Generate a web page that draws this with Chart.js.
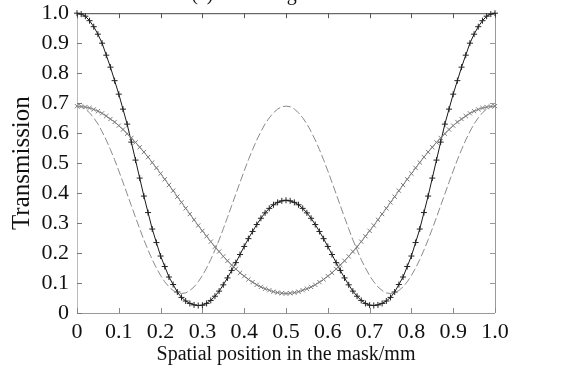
<!DOCTYPE html>
<html>
<head>
<meta charset="utf-8">
<script src="https://cdn.jsdelivr.net/npm/chart.js@4.4.1/dist/chart.umd.min.js"></script>
<style>
  html, body { margin: 0; padding: 0; background: #fff; }
  #wrap { width: 568px; height: 374px; position: relative; }
</style>
</head>
<body>
<div id="wrap"><canvas id="chart" width="568" height="374"></canvas></div>
<script>
// transmission, x = 0 .. 1.0 mm in 0.01 steps
const solidPlus = [
  1.000, 0.997, 0.990, 0.975, 0.955, 0.930, 0.900, 0.860, 0.820, 0.775,
  0.730, 0.680, 0.630, 0.570, 0.510, 0.450, 0.390, 0.335, 0.280, 0.235,
  0.190, 0.155, 0.120, 0.095, 0.070, 0.052, 0.040, 0.032, 0.027, 0.025,
  0.026, 0.032, 0.042, 0.056, 0.073, 0.094, 0.117, 0.142, 0.168, 0.195,
  0.222, 0.248, 0.272, 0.295, 0.316, 0.334, 0.349, 0.361, 0.369, 0.374,
  0.376,
  0.374, 0.369, 0.361, 0.349, 0.334, 0.316, 0.295, 0.272, 0.248, 0.222,
  0.195, 0.168, 0.142, 0.117, 0.094, 0.073, 0.056, 0.042, 0.032, 0.026,
  0.025, 0.027, 0.032, 0.040, 0.052, 0.070, 0.095, 0.120, 0.155, 0.190,
  0.235, 0.280, 0.335, 0.390, 0.450, 0.510, 0.570, 0.630, 0.680, 0.730,
  0.775, 0.820, 0.860, 0.900, 0.930, 0.955, 0.975, 0.990, 0.997, 1.000
];
const grayCross = [
  0.690, 0.689, 0.687, 0.684, 0.679, 0.673, 0.666, 0.657, 0.647, 0.637,
  0.625, 0.612, 0.598, 0.584, 0.569, 0.553, 0.537, 0.520, 0.502, 0.484,
  0.465, 0.446, 0.427, 0.408, 0.388, 0.369, 0.349, 0.330, 0.311, 0.292,
  0.274, 0.256, 0.238, 0.221, 0.205, 0.189, 0.174, 0.160, 0.147, 0.134,
  0.123, 0.112, 0.103, 0.094, 0.087, 0.081, 0.076, 0.071, 0.068, 0.066,
  0.065,
  0.066, 0.068, 0.071, 0.076, 0.081, 0.087, 0.094, 0.103, 0.112, 0.123,
  0.134, 0.147, 0.160, 0.174, 0.189, 0.205, 0.221, 0.238, 0.256, 0.274,
  0.292, 0.311, 0.330, 0.349, 0.369, 0.388, 0.408, 0.427, 0.446, 0.465,
  0.484, 0.502, 0.520, 0.537, 0.553, 0.569, 0.584, 0.598, 0.612, 0.625,
  0.637, 0.647, 0.657, 0.666, 0.673, 0.679, 0.684, 0.687, 0.689, 0.690
];
const dashed = [
  0.690, 0.688, 0.680, 0.668, 0.651, 0.631, 0.605, 0.577, 0.545, 0.511,
  0.474, 0.436, 0.397, 0.358, 0.319, 0.281, 0.244, 0.210, 0.178, 0.150,
  0.125, 0.104, 0.087, 0.075, 0.067, 0.065, 0.067, 0.075, 0.087, 0.104,
  0.125, 0.150, 0.178, 0.210, 0.244, 0.281, 0.319, 0.358, 0.397, 0.436,
  0.474, 0.511, 0.545, 0.577, 0.605, 0.631, 0.651, 0.668, 0.680, 0.688,
  0.690,
  0.688, 0.680, 0.668, 0.651, 0.631, 0.605, 0.577, 0.545, 0.511, 0.474,
  0.436, 0.397, 0.358, 0.319, 0.281, 0.244, 0.210, 0.178, 0.150, 0.125,
  0.104, 0.087, 0.075, 0.067, 0.065, 0.067, 0.075, 0.087, 0.104, 0.125,
  0.150, 0.178, 0.210, 0.244, 0.281, 0.319, 0.358, 0.397, 0.436, 0.474,
  0.511, 0.545, 0.577, 0.605, 0.631, 0.651, 0.668, 0.680, 0.688, 0.690
];
const xTicks = [0, 0.1, 0.2, 0.3, 0.4, 0.5, 0.6, 0.7, 0.8, 0.9, 1.0];
const yTicks = [0, 0.1, 0.2, 0.3, 0.4, 0.5, 0.6, 0.7, 0.8, 0.9, 1.0];

const positions = solidPlus.map((_, i) => i / 100);
const pts = arr => arr.map((v, i) => ({ x: positions[i], y: v }));
const fmt = v => (v === 0 ? '0' : v.toFixed(1));
const serif = '"Liberation Serif", "DejaVu Serif", serif';

// MATLAB-ish box: inward ticks on all four sides
const boxPlugin = {
    id: 'box',
    beforeDatasetsDraw(chart) {
        const { ctx, chartArea: a, scales: { x, y } } = chart;
        ctx.save();
        ctx.lineWidth = 1;
        const line = (x1, y1, x2, y2, c) => {
            ctx.strokeStyle = c;
            ctx.beginPath();
            ctx.moveTo(x1, y1);
            ctx.lineTo(x2, y2);
            ctx.stroke();
        };
        line(a.left, a.top + 0.5, a.right, a.top + 0.5, '#444');
        line(a.left + 0.5, a.top, a.left + 0.5, a.bottom, '#bbb');
        line(a.left, a.bottom + 0.5, a.right, a.bottom + 0.5, '#999');
        line(a.right + 0.5, a.top, a.right + 0.5, a.bottom, '#999');
        xTicks.forEach(t => {
            const px = Math.round(x.getPixelForValue(t)) + 0.5;
            line(px, a.bottom, px, a.bottom - 5, '#888');
            line(px, a.top, px, a.top + 5, '#555');
        });
        yTicks.forEach(t => {
            const py = Math.round(y.getPixelForValue(t)) + 0.5;
            line(a.left, py, a.left + 5, py, '#777');
            line(a.right, py, a.right - 5, py, '#999');
        });
        ctx.restore();
    },
    afterDraw(chart) {
        // clipped figure caption at the very top
        const { ctx } = chart;
        ctx.save();
        ctx.fillStyle = '#111';
        ctx.font = '20px ' + serif;
        ctx.textAlign = 'center';
        ctx.textBaseline = 'alphabetic';
        ctx.fillText('(a) The designed mask', 282, 0);
        ctx.restore();
    }
};

new Chart(document.getElementById('chart').getContext('2d'), {
    type: 'line',
    data: {
        datasets: [{
            data: pts(dashed),
            borderColor: '#8a8a8a',
            borderWidth: 1,
            borderDash: [8, 3],
            pointRadius: 0,
            tension: 0
        }, {
            data: pts(grayCross),
            borderColor: '#8a8a8a',
            borderWidth: 1,
            pointStyle: 'crossRot',
            pointRadius: 3,
            pointBorderColor: '#7a7a7a',
            pointBorderWidth: 1,
            tension: 0
        }, {
            data: pts(solidPlus),
            borderColor: '#1a1a1a',
            borderWidth: 1,
            pointStyle: 'cross',
            pointRadius: 3,
            pointBorderColor: '#222',
            pointBorderWidth: 1,
            tension: 0
        }]
    },
    options: {
        responsive: false,
        animation: false,
        clip: false,
        layout: { padding: { top: 12, right: 73, left: 0, bottom: 0 } },
        plugins: {
            legend: { display: false },
            tooltip: { enabled: false }
        },
        scales: {
            x: {
                type: 'linear',
                min: 0,
                max: 1,
                grid: { display: false },
                border: { display: false },
                afterBuildTicks: s => { s.ticks = xTicks.map(v => ({ value: v })); },
                afterFit: s => { s.height = 61; },
                ticks: {
                    color: '#111',
                    padding: -2,
                    maxRotation: 0,
                    font: { family: serif, size: 22 },
                    callback: v => fmt(v)
                },
                title: {
                    display: true,
                    text: 'Spatial position in the mask/mm',
                    color: '#111',
                    font: { family: serif, size: 20 },
                    padding: { top: 0, bottom: 7 }
                }
            },
            y: {
                min: 0,
                max: 1,
                grid: { display: false },
                border: { display: false },
                afterBuildTicks: s => { s.ticks = yTicks.map(v => ({ value: v })); },
                afterFit: s => { s.width = 77; },
                ticks: {
                    color: '#111',
                    padding: 0,
                    font: { family: serif, size: 22 },
                    callback: v => fmt(v)
                },
                title: {
                    display: true,
                    text: 'Transmission',
                    color: '#111',
                    font: { family: serif, size: 25 },
                    padding: { top: 7, bottom: 0 }
                }
            }
        }
    },
    plugins: [boxPlugin]
});
</script>
</body>
</html>
